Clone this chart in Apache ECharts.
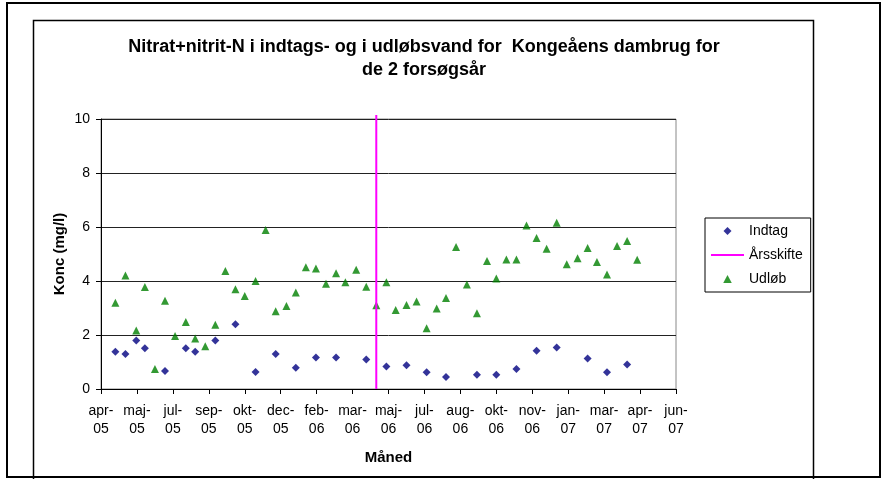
<!DOCTYPE html>
<html>
<head>
<meta charset="utf-8">
<title>Nitrat+nitrit-N Kongeåens dambrug</title>
<script src="https://cdn.jsdelivr.net/npm/echarts@6/dist/echarts.min.js"></script>
<style>
  html, body { margin: 0; padding: 0; background: #fff; }
  #chart-1 { width: 883px; height: 479px; }
</style>
</head>
<body>
<div id="chart-1"></div>
<script>
  //【data】 prøvedatoer og koncentrationer (mg/l)
  var datoIndtag = ['2005-04-28', '2005-05-12', '2005-05-27', '2005-06-08', '2005-07-06', '2005-08-04', '2005-08-17',
    '2005-09-14', '2005-10-12', '2005-11-09', '2005-12-07', '2006-01-04', '2006-02-01', '2006-03-01', '2006-04-12',
    '2006-05-10', '2006-06-07', '2006-07-05', '2006-08-01', '2006-09-13', '2006-10-10', '2006-11-07', '2006-12-05',
    '2007-01-02', '2007-02-14', '2007-03-13', '2007-04-10']
  var konIndtag = [1.38, 1.30, 1.80, 1.51, 0.67, 1.51, 1.38,
    1.80, 2.40, 0.63, 1.30, 0.79, 1.17, 1.17, 1.09,
    0.83, 0.88, 0.62, 0.44, 0.53, 0.53, 0.74, 1.42,
    1.54, 1.13, 0.62, 0.91]

  var datoUdlob = ['2005-04-28', '2005-05-12', '2005-05-27', '2005-06-08', '2005-06-22', '2005-07-06', '2005-07-20',
    '2005-08-04', '2005-08-17', '2005-08-31', '2005-09-14', '2005-09-28', '2005-10-12', '2005-10-25', '2005-11-09',
    '2005-11-23', '2005-12-07', '2005-12-22', '2006-01-04', '2006-01-18', '2006-02-01', '2006-02-15', '2006-03-01',
    '2006-03-14', '2006-03-29', '2006-04-12', '2006-04-26', '2006-05-10', '2006-05-23', '2006-06-07', '2006-06-21',
    '2006-07-05', '2006-07-19', '2006-08-01', '2006-08-15', '2006-08-30', '2006-09-13', '2006-09-27', '2006-10-10',
    '2006-10-24', '2006-11-07', '2006-11-21', '2006-12-05', '2006-12-19', '2007-01-02', '2007-01-16', '2007-01-31',
    '2007-02-14', '2007-02-27', '2007-03-13', '2007-03-27', '2007-04-10', '2007-04-24']
  var konUdlob = [3.19, 4.20, 2.17, 3.78, 0.74, 3.27, 1.96,
    2.48, 1.87, 1.58, 2.38, 4.37, 3.69, 3.44, 4.00,
    5.89, 2.88, 3.07, 3.57, 4.51, 4.46, 3.90, 4.29,
    3.95, 4.42, 3.79, 3.10, 3.95, 2.93, 3.11, 3.24,
    2.25, 2.98, 3.37, 5.26, 3.87, 2.81, 4.74, 4.09,
    4.80, 4.80, 6.06, 5.59, 5.19, 6.16, 4.62, 4.84,
    5.22, 4.70, 4.24, 5.30, 5.48, 4.79]

  // årsskifte mellem de 2 forsøgsår
  var datoSkifte = '2006-04-26'
  var skifteFra = 0
  var skifteTil = 10.15

  // akser
  var maaneder = ['jan', 'feb', 'mar', 'apr', 'maj', 'jun', 'jul', 'aug', 'sep', 'okt', 'nov', 'dec']
  var xStart = '2005-04-08', xDage = 800, xSkridt = 50
  var yMin = 0, yMax = 10, ySkridt = 2

  var font = "'Liberation Sans', Arial, sans-serif"

  // dato -> excel serienummer
  function serial(s) {
    var p = s.split('-')
    return Date.UTC(+p[0], +p[1] - 1, +p[2]) / 86400000 + 25569
  }

  function punkter(datoer, vaerdier) {
    var data = []
    for (var i in datoer) data.push([serial(datoer[i]), vaerdier[i]])
    return data
  }

  var xMin = serial(xStart)

  var option = {
    animation: false,
    backgroundColor: '#fff',
    textStyle: {fontFamily: font},
    title: {
      text: 'Nitrat+nitrit-N i indtags- og i udløbsvand for  Kongeåens dambrug for\nde 2 forsøgsår',
      left: 424,
      top: 36,
      padding: 0,
      textAlign: 'center',
      textStyle: {
        fontFamily: font,
        fontSize: 18,
        fontWeight: 'bold',
        color: '#000',
        lineHeight: 23
      }
    },
    legend: {
      orient: 'vertical',
      left: 705,
      top: 218,
      padding: [6, 8, 6, 5],
      borderColor: '#000',
      borderWidth: 1,
      itemWidth: 33,
      itemHeight: 8,
      itemGap: 10,
      symbolKeepAspect: true,
      textStyle: {fontFamily: font, fontSize: 14, color: '#000'},
      data: [
        {name: 'Indtag', icon: 'path://M4,0L8,4L4,8L0,4Z'},
        {name: 'Årsskifte', itemStyle: {opacity: 0}},
        {name: 'Udløb', icon: 'path://M4,0L8,7.5L0,7.5Z'}
      ]
    },
    grid: {
      left: 101,
      top: 119,
      right: 207,
      bottom: 90,
      show: true,
      borderColor: '#888',
      borderWidth: 1
    },
    xAxis: {
      type: 'value',
      min: xMin,
      max: xMin + xDage,
      interval: xSkridt,
      name: 'Måned',
      nameLocation: 'middle',
      nameGap: 61,
      nameMoveOverlap: false,
      nameTextStyle: {fontFamily: font, fontSize: 15, fontWeight: 'bold', color: '#000'},
      axisLine: {lineStyle: {color: '#000', width: 1}},
      axisTick: {length: 5, lineStyle: {color: '#000'}},
      splitLine: {show: false},
      axisLabel: {
        margin: 13,
        fontFamily: font,
        fontSize: 14,
        lineHeight: 18,
        color: '#000',
        formatter: function (v) {
          var d = new Date((v - 25569) * 86400000)
          return maaneder[d.getUTCMonth()] + '-\n' + String(d.getUTCFullYear()).slice(2)
        }
      }
    },
    yAxis: {
      type: 'value',
      min: yMin,
      max: yMax,
      interval: ySkridt,
      name: 'Konc (mg/l)',
      nameLocation: 'middle',
      nameGap: 34,
      nameMoveOverlap: false,
      nameTextStyle: {fontFamily: font, fontSize: 15, fontWeight: 'bold', color: '#000'},
      axisLine: {show: true, lineStyle: {color: '#000', width: 1}},
      axisTick: {show: true, length: 5, lineStyle: {color: '#000'}},
      splitLine: {lineStyle: {color: '#222', width: 1}},
      axisLabel: {margin: 11, fontFamily: font, fontSize: 14, color: '#000'}
    },
    graphic: [
      // ydre ramme
      {type: 'rect', shape: {x: 7, y: 3, width: 873, height: 474}, style: {fill: null, stroke: '#000', lineWidth: 2}, silent: true},
      // diagramramme
      {type: 'rect', shape: {x: 33.5, y: 20.5, width: 780, height: 470}, style: {fill: null, stroke: '#000', lineWidth: 1.5}, silent: true}
    ],
    series: [
      {
        name: 'Indtag',
        type: 'scatter',
        symbol: 'diamond',
        symbolSize: 8,
        itemStyle: {color: '#000080'},
        data: punkter(datoIndtag, konIndtag)
      },
      {
        name: 'Årsskifte',
        type: 'line',
        symbol: 'none',
        clip: false,
        lineStyle: {color: '#FF00FF', width: 2},
        itemStyle: {color: '#FF00FF'},
        data: [[serial(datoSkifte), skifteFra], [serial(datoSkifte), skifteTil]]
      },
      {
        name: 'Udløb',
        type: 'scatter',
        symbol: 'triangle',
        symbolSize: 8,
        itemStyle: {color: '#008000'},
        data: punkter(datoUdlob, konUdlob)
      }
    ]
  }

  echarts.init(document.getElementById('chart-1')).setOption(option)
</script>
</body>
</html>
